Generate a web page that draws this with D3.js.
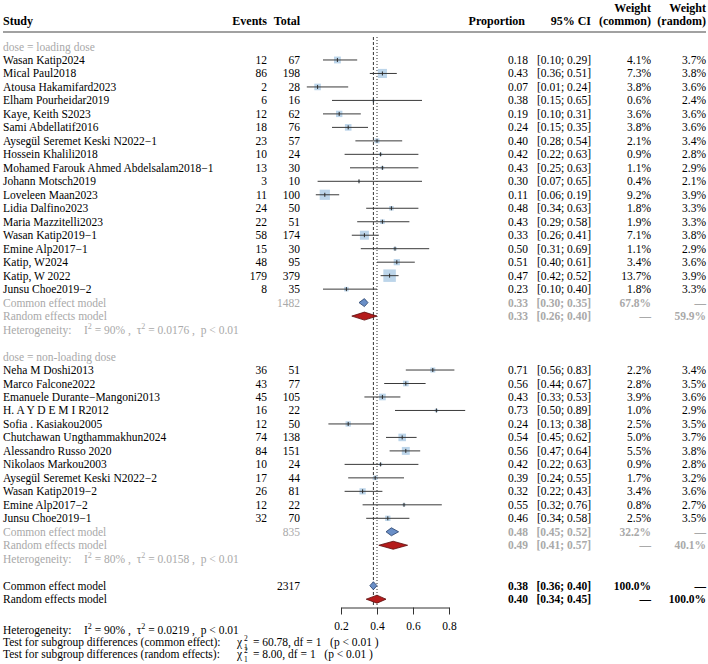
<!DOCTYPE html>
<html>
<head>
<meta charset="utf-8">
<script src="https://cdn.jsdelivr.net/npm/d3@7"></script>
<style>
  body { margin: 0; background: #fff; }
  svg { font-family: "Liberation Serif", "Times New Roman", serif; font-size: 11.5px; }
</style>
</head>
<body>
<svg id="chart" width="708" height="664"></svg>
<script>
// group 1: loading dose
const studies1 = ['Wasan Katip2024', 'Mical Paul2018', 'Atousa Hakamifard2023', 'Elham Pourheidar2019',
  'Kaye, Keith S2023', 'Sami Abdellatif2016', 'Aysegül Seremet Keski N2022−1', 'Hossein Khalili2018',
  'Mohamed Farouk Ahmed Abdelsalam2018−1', 'Johann Motsch2019', 'Loveleen Maan2023', 'Lidia Dalfino2023',
  'Maria Mazzitelli2023', 'Wasan Katip2019−1', 'Emine Alp2017−1', 'Katip, W2024', 'Katip, W 2022',
  'Junsu Choe2019−2'];
const events1 = [12, 86, 2, 6, 12, 18, 23, 10, 13, 3, 11, 24, 22, 58, 15, 48, 179, 8];
const totals1 = [67, 198, 28, 16, 62, 76, 57, 24, 30, 10, 100, 50, 51, 174, 30, 95, 379, 35];
const prop1 = [0.18, 0.43, 0.07, 0.38, 0.19, 0.24, 0.40, 0.42, 0.43, 0.30, 0.11, 0.48, 0.43, 0.33, 0.50, 0.51, 0.47, 0.23];
const lower1 = [0.10, 0.36, 0.01, 0.15, 0.10, 0.15, 0.28, 0.22, 0.25, 0.07, 0.06, 0.34, 0.29, 0.26, 0.31, 0.40, 0.42, 0.10];
const upper1 = [0.29, 0.51, 0.24, 0.65, 0.31, 0.35, 0.54, 0.63, 0.63, 0.65, 0.19, 0.63, 0.58, 0.41, 0.69, 0.61, 0.52, 0.40];
const wCommon1 = [4.1, 7.3, 3.8, 0.6, 3.6, 3.8, 2.1, 0.9, 1.1, 0.4, 9.2, 1.8, 1.9, 7.1, 1.1, 3.4, 13.7, 1.8];
const wRandom1 = [3.7, 3.8, 3.6, 2.4, 3.6, 3.6, 3.4, 2.8, 2.9, 2.1, 3.9, 3.3, 3.3, 3.8, 2.9, 3.6, 3.9, 3.3];

// group 2: non-loading dose
const studies2 = ['Neha M Doshi2013', 'Marco Falcone2022', 'Emanuele Durante−Mangoni2013', 'H. A Y D E M I R2012',
  'Sofia . Kasiakou2005', 'Chutchawan Ungthammakhun2024', 'Alessandro Russo 2020', 'Nikolaos Markou2003',
  'Aysegül Seremet Keski N2022−2', 'Wasan Katip2019−2', 'Emine Alp2017−2', 'Junsu Choe2019−1'];
const events2 = [36, 43, 45, 16, 12, 74, 84, 10, 17, 26, 12, 32];
const totals2 = [51, 77, 105, 22, 50, 138, 151, 24, 44, 81, 22, 70];
const prop2 = [0.71, 0.56, 0.43, 0.73, 0.24, 0.54, 0.56, 0.42, 0.39, 0.32, 0.55, 0.46];
const lower2 = [0.56, 0.44, 0.33, 0.50, 0.13, 0.45, 0.47, 0.22, 0.24, 0.22, 0.32, 0.34];
const upper2 = [0.83, 0.67, 0.53, 0.89, 0.38, 0.62, 0.64, 0.63, 0.55, 0.43, 0.76, 0.58];
const wCommon2 = [2.2, 2.8, 3.9, 1.0, 2.5, 5.0, 5.5, 0.9, 1.7, 3.4, 0.8, 2.5];
const wRandom2 = [3.4, 3.5, 3.6, 2.9, 3.5, 3.7, 3.8, 2.8, 3.2, 3.6, 2.7, 3.5];

// pooled estimates: [subgroup 1, subgroup 2, overall]
const commonEst = [0.33, 0.48, 0.38];
const commonLo = [0.30, 0.45, 0.36];
const commonHi = [0.35, 0.52, 0.40];
const commonW = ['67.8%', '32.2%', '100.0%'];
const commonN = [1482, 835, 2317];
const randomEst = [0.33, 0.49, 0.40];
const randomLo = [0.26, 0.41, 0.34];
const randomHi = [0.40, 0.57, 0.45];
const randomW = ['59.9%', '40.1%', '100.0%'];
const hetI2 = ['90%', '80%', '90%'];
const hetTau2 = ['0.0176', '0.0158', '0.0219'];
const subgroupLabels = ['dose = loading dose', 'dose = non-loading dose'];
const testStats = ['60.78', '8.00'];
const testLabels = ['Test for subgroup differences (common effect):', 'Test for subgroup differences (random effects):'];
const tickValues = [0.2, 0.4, 0.6, 0.8];

const GRAY = '#a9a9a9';
const svg = d3.select('#chart');
const x = d3.scaleLinear().domain([0.2, 0.8]).range([341, 449]);
const boxSize = d3.scaleSqrt().domain([0, 13.7]).range([0, 12.5]);
const ROW0 = 46.5;
const ROWH = 13.48;
const rowY = i => ROW0 + ROWH * i;
const f2 = d3.format('.2f');
const ci = (lo, hi) => `[${f2(lo)}; ${f2(hi)}]`;

const COL = { study: 3, events: 267, total: 300, prop: 528, ci: 591, wc: 651, wr: 706 };

function text(xp, y, s, opts = {}) {
  return svg.append('text')
    .attr('x', xp).attr('y', y + 4)
    .attr('text-anchor', opts.anchor || 'start')
    .attr('fill', opts.color || '#000')
    .attr('font-weight', opts.bold ? 'bold' : null)
    .attr('font-size', opts.size || null)
    .text(s);
}

// header
const H = { bold: true, size: 12 };
text(COL.study, 21, 'Study', H);
text(COL.events, 21, 'Events', { ...H, anchor: 'end' });
text(COL.total, 21, 'Total', { ...H, anchor: 'end' });
text(525, 21, 'Proportion', { ...H, anchor: 'end' });
text(COL.ci, 21, '95% CI', { ...H, anchor: 'end' });
text(COL.wc, 8, 'Weight', { ...H, anchor: 'end' });
text(COL.wc, 21, '(common)', { ...H, anchor: 'end' });
text(COL.wr, 8, 'Weight', { ...H, anchor: 'end' });
text(COL.wr, 21, '(random)', { ...H, anchor: 'end' });
svg.append('line').attr('x1', 3).attr('x2', 706).attr('y1', 32).attr('y2', 32)
  .attr('stroke', '#444').attr('stroke-width', 1.2);

// reference lines (common dashed, random dotted)
const refTop = 37, refBottom = 606;
svg.append('line').attr('x1', x(commonEst[2])).attr('x2', x(commonEst[2]))
  .attr('y1', refTop).attr('y2', refBottom)
  .attr('stroke', '#333').attr('stroke-dasharray', '3,2');
svg.append('line').attr('x1', x(randomEst[2])).attr('x2', x(randomEst[2]))
  .attr('y1', refTop).attr('y2', refBottom)
  .attr('stroke', '#333').attr('stroke-dasharray', '1,2');

function diamond(y, est, lo, hi, fill, stroke) {
  const h = 4;
  svg.append('path')
    .attr('d', `M${x(lo)},${y}L${x(est)},${y - h}L${x(hi)},${y}L${x(est)},${y + h}Z`)
    .attr('fill', fill).attr('stroke', stroke).attr('stroke-width', 0.8);
}

function hetLine(y, k, color) {
  svg.append('text').attr('x', 3).attr('y', y + 4).attr('fill', color).text('Heterogeneity:');
  const t = svg.append('text').attr('x', 84).attr('y', y + 4).attr('fill', color)
    .attr('xml:space', 'preserve');
  t.append('tspan').text('I');
  t.append('tspan').attr('dy', -5).attr('font-size', 8).text('2');
  t.append('tspan').attr('dy', 5).text(` = ${hetI2[k]} ,  τ`);
  t.append('tspan').attr('dy', -5).attr('font-size', 8).text('2');
  t.append('tspan').attr('dy', 5).text(` = ${hetTau2[k]} ,  p < 0.01`);
}

const groups = [
  { studies: studies1, events: events1, totals: totals1, prop: prop1, lower: lower1, upper: upper1, wc: wCommon1, wr: wRandom1 },
  { studies: studies2, events: events2, totals: totals2, prop: prop2, lower: lower2, upper: upper2, wc: wCommon2, wr: wRandom2 },
];

let row = 0;
groups.forEach((g, k) => {
  text(COL.study, rowY(row), subgroupLabels[k], { color: GRAY });
  row += 1;
  g.studies.forEach((name, i) => {
    const y = rowY(row);
    text(COL.study, y, name);
    text(COL.events, y, g.events[i], { anchor: 'end' });
    text(COL.total, y, g.totals[i], { anchor: 'end' });
    text(COL.prop, y, f2(g.prop[i]), { anchor: 'end' });
    text(COL.ci, y, ci(g.lower[i], g.upper[i]), { anchor: 'end' });
    text(COL.wc, y, `${g.wc[i].toFixed(1)}%`, { anchor: 'end' });
    text(COL.wr, y, `${g.wr[i].toFixed(1)}%`, { anchor: 'end' });
    const s = boxSize(g.wc[i]);
    svg.append('rect')
      .attr('x', x(g.prop[i]) - s / 2).attr('y', y - s / 2)
      .attr('width', s).attr('height', s)
      .attr('fill', '#bcd5ea');
    svg.append('line')
      .attr('x1', x(g.lower[i])).attr('x2', x(g.upper[i]))
      .attr('y1', y).attr('y2', y)
      .attr('stroke', '#3a3a3a').attr('stroke-width', 1);
    svg.append('line')
      .attr('x1', x(g.prop[i])).attr('x2', x(g.prop[i]))
      .attr('y1', y - 2).attr('y2', y + 2)
      .attr('stroke', '#2a2a2a').attr('stroke-width', 1);
    row += 1;
  });
  // subgroup common
  let y = rowY(row);
  text(COL.study, y, 'Common effect model', { color: GRAY });
  text(COL.total, y, commonN[k], { anchor: 'end', color: GRAY });
  text(COL.prop, y, f2(commonEst[k]), { anchor: 'end', color: GRAY, bold: true });
  text(COL.ci, y, ci(commonLo[k], commonHi[k]), { anchor: 'end', color: GRAY, bold: true });
  text(COL.wc, y, commonW[k], { anchor: 'end', color: GRAY, bold: true });
  text(COL.wr, y, '—', { anchor: 'end', color: GRAY, bold: true });
  diamond(y, commonEst[k], commonLo[k], commonHi[k], '#6a8fc7', '#27406b');
  row += 1;
  y = rowY(row);
  text(COL.study, y, 'Random effects model', { color: GRAY });
  text(COL.prop, y, f2(randomEst[k]), { anchor: 'end', color: GRAY, bold: true });
  text(COL.ci, y, ci(randomLo[k], randomHi[k]), { anchor: 'end', color: GRAY, bold: true });
  text(COL.wc, y, '—', { anchor: 'end', color: GRAY, bold: true });
  text(COL.wr, y, randomW[k], { anchor: 'end', color: GRAY, bold: true });
  diamond(y, randomEst[k], randomLo[k], randomHi[k], '#b51c1c', '#5c0c0c');
  row += 1;
  hetLine(rowY(row), k, GRAY);
  row += 2;
});

// overall
let y = rowY(row);
text(COL.study, y, 'Common effect model');
text(COL.total, y, commonN[2], { anchor: 'end' });
text(COL.prop, y, f2(commonEst[2]), { anchor: 'end', bold: true });
text(COL.ci, y, ci(commonLo[2], commonHi[2]), { anchor: 'end', bold: true });
text(COL.wc, y, commonW[2], { anchor: 'end', bold: true });
text(COL.wr, y, '—', { anchor: 'end', bold: true });
diamond(y, commonEst[2], commonLo[2], commonHi[2], '#6a8fc7', '#27406b');
row += 1;
y = rowY(row);
text(COL.study, y, 'Random effects model');
text(COL.prop, y, f2(randomEst[2]), { anchor: 'end', bold: true });
text(COL.ci, y, ci(randomLo[2], randomHi[2]), { anchor: 'end', bold: true });
text(COL.wc, y, '—', { anchor: 'end', bold: true });
text(COL.wr, y, randomW[2], { anchor: 'end', bold: true });
diamond(y, randomEst[2], randomLo[2], randomHi[2], '#b51c1c', '#5c0c0c');

// axis
const axis = d3.axisBottom(x).tickValues(tickValues).tickSize(7).tickSizeOuter(0).tickPadding(7)
  .tickFormat(d3.format('.1f'));
const gAxis = svg.append('g').attr('transform', 'translate(0,607.5)').call(axis);
gAxis.attr('font-family', null).attr('font-size', null);
gAxis.selectAll('text').attr('fill', '#000');
gAxis.selectAll('path, line').attr('stroke', '#333');

// bottom statistics
hetLine(629.5, 2, '#000');
testLabels.forEach((lab, i) => {
  const yy = 642 + 12 * i;
  text(COL.study, yy, lab);
  text(237, yy, 'χ');
  svg.append('text').attr('x', 244).attr('y', yy - 1).attr('font-size', 7.5).text('2');
  svg.append('text').attr('x', 244).attr('y', yy + 7.5).attr('font-size', 7.5).text('1');
  text(250, yy, ` = ${testStats[i]}, df = 1   (p < 0.01 )`).attr('xml:space', 'preserve');
});
</script>
</body>
</html>
